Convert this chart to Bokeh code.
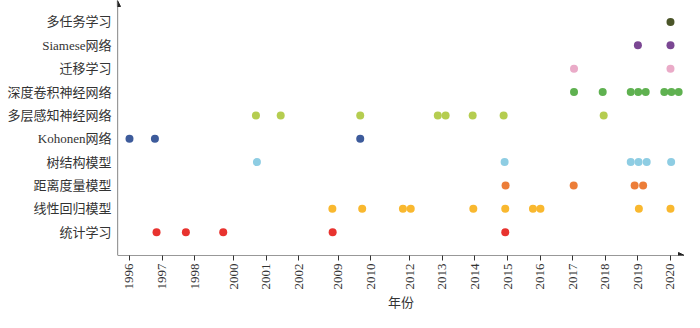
import numpy as np
from bokeh.plotting import figure
from bokeh.models import FixedTicker, Arrow, NormalHead, ColumnDataSource
from bokeh.embed import file_html
from bokeh.resources import INLINE

# ---- data ----
categories = ["统计学习", "线性回归模型", "距离度量模型", "树结构模型", "Kohonen网络",
              "多层感知神经网络", "深度卷积神经网络", "迁移学习", "Siamese网络", "多任务学习"]
tick_years = [1996, 1997, 1998, 2000, 2001, 2002, 2009, 2010, 2012, 2013,
              2014, 2015, 2016, 2017, 2018, 2019, 2020]

years_stat = [1996.83, 1997.73, 1999.46, 2008.03, 2014.93]
years_linear = [2007.98, 2009.74, 2011.65, 2012.03, 2013.95, 2014.93, 2015.78, 2016.01, 2019.03, 2020.0]
years_distance = [2014.94, 2017.03, 2018.90, 2019.16]
years_tree = [2000.71, 2014.91, 2018.78, 2019.02, 2019.27, 2020.02]
years_kohonen = [1996.0, 1996.78, 2009.68]
years_mlp = [2000.68, 2001.44, 2009.68, 2012.86, 2013.10, 2013.93, 2014.88, 2017.95]
years_cnn = [2017.04, 2017.92, 2018.78, 2019.01, 2019.24, 2019.81, 2020.03, 2020.25]
years_transfer = [2017.04, 2020.0]
years_siamese = [2019.0, 2020.0]
years_multitask = [2020.0]

series = [years_stat, years_linear, years_distance, years_tree, years_kohonen,
          years_mlp, years_cnn, years_transfer, years_siamese, years_multitask]
colors = ["#e8332f", "#f9b82f", "#ec7d38", "#8ecde3", "#3d5b9b",
          "#b5cd50", "#5fb150", "#eaabc8", "#7b4793", "#4b5529"]

# ---- compressed year axis: gap of 1 unit for consecutive years, 1.2 otherwise ----
tick_pos = [0.0]
for a, b in zip(tick_years[:-1], tick_years[1:]):
    tick_pos.append(tick_pos[-1] + (1.0 if b - a == 1 else 1.2))
tick_pos = np.array(tick_pos)

def year_to_pos(y):
    y = np.asarray(y, dtype=float)
    return np.interp(y, tick_years, tick_pos) + \
        np.where(y > tick_years[-1], y - tick_years[-1], 0.0)

x_start, x_end = -0.368, 17.03
y_start, y_end = 0.0, 10.92

FONT = "Liberation Serif, 'Noto Sans CJK SC', serif"

p = figure(width=684, height=312, output_backend="svg", toolbar_location=None,
           x_range=(x_start, x_end), y_range=(y_start, y_end),
           min_border_left=117, min_border_right=0, min_border_top=0, min_border_bottom=51)
p.outline_line_color = None
p.xgrid.grid_line_color = None
p.ygrid.grid_line_color = None

for i, (ys, c) in enumerate(zip(series, colors)):
    src = ColumnDataSource(dict(x=year_to_pos(ys), y=[i + 1] * len(ys)))
    p.scatter("x", "y", source=src, size=8, fill_color=c, line_color=None)

# x axis
p.xaxis.ticker = FixedTicker(ticks=list(tick_pos))
p.xaxis.major_label_overrides = {float(tp): str(yr) for tp, yr in zip(tick_pos, tick_years)}
p.xaxis.major_label_orientation = np.pi / 2
p.xaxis.axis_line_color = None
p.xaxis.major_tick_out = 5
p.xaxis.major_tick_in = 0
p.xaxis.major_tick_line_color = "#333333"
p.xaxis.minor_tick_line_color = None
p.xaxis.major_label_standoff = 3
p.xaxis.major_label_text_font = FONT
p.xaxis.major_label_text_font_size = "13px"
p.xaxis.major_label_text_color = "#333333"
p.xaxis.axis_label = "年份"
p.xaxis.axis_label_text_font = FONT
p.xaxis.axis_label_text_font_size = "13px"
p.xaxis.axis_label_text_font_style = "normal"
p.xaxis.axis_label_text_color = "#333333"
p.xaxis.axis_label_standoff = 2

# y axis
p.yaxis.ticker = FixedTicker(ticks=list(range(1, len(categories) + 1)))
p.yaxis.major_label_overrides = {i + 1: c for i, c in enumerate(categories)}
p.yaxis.axis_line_color = None
p.yaxis.major_tick_out = 0
p.yaxis.major_tick_in = 0
p.yaxis.minor_tick_line_color = None
p.yaxis.major_label_standoff = 6
p.yaxis.major_label_text_font = FONT
p.yaxis.major_label_text_font_size = "13px"
p.yaxis.major_label_text_color = "#333333"

# axis lines with arrow heads
p.add_layout(Arrow(end=NormalHead(size=6, fill_color="#222222", line_color="#222222"),
                   x_start=x_start, y_start=y_start, x_end=x_end, y_end=y_start,
                   line_color="#333333", line_width=1.2))
p.add_layout(Arrow(end=NormalHead(size=6, fill_color="#222222", line_color="#222222"),
                   x_start=x_start, y_start=y_start, x_end=x_start, y_end=y_end,
                   line_color="#333333", line_width=1.2))

open("out.html", "w").write(file_html(p, INLINE))
